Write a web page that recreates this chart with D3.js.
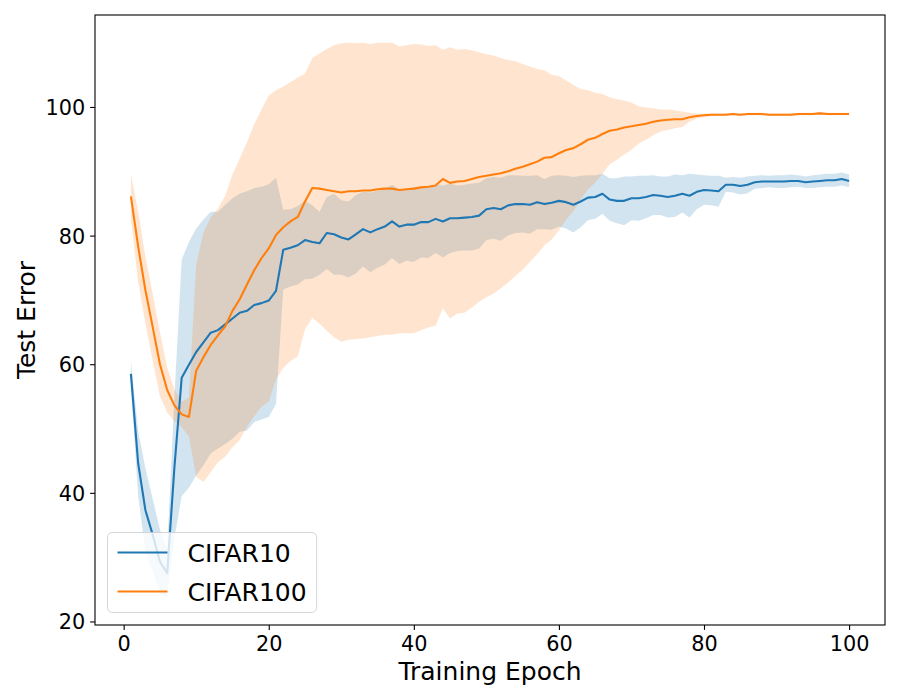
<!DOCTYPE html>
<html>
<head>
<meta charset="utf-8">
<script src="https://cdn.jsdelivr.net/npm/d3@7"></script>
<style>
  body { margin: 0; background: #fff; }
  text { font-family: "DejaVu Sans", sans-serif; }
</style>
</head>
<body>
<div id="vis"></div>
<script>
// ------------------------
// Data
// ------------------------
const epochs = d3.range(1, 101);

const cifar10Mean = [
  58.5, 44.6, 37.3, 33.5, 29.3, 27.5, 44.0, 57.9, 59.9, 61.9,
  63.4, 64.9, 65.3, 66.2, 67.1, 68.0, 68.3, 69.2, 69.5, 69.9,
  71.4, 77.8, 78.1, 78.5, 79.3, 79.0, 78.8, 80.4, 80.2, 79.7,
  79.4, 80.2, 81.0, 80.5, 81.0, 81.4, 82.2, 81.4, 81.7, 81.7,
  82.1, 82.1, 82.6, 82.2, 82.7, 82.7, 82.8, 82.9, 83.1, 84.1,
  84.3, 84.1, 84.7, 84.9, 84.9, 84.8, 85.2, 84.9, 85.1, 85.4,
  85.2, 84.8, 85.3, 85.9, 86.0, 86.5, 85.6, 85.4, 85.4, 85.8,
  85.8, 86.0, 86.3, 86.2, 86.0, 86.2, 86.5, 86.2, 86.8, 87.1,
  87.0, 86.9, 87.9, 87.9, 87.7, 87.9, 88.3, 88.4, 88.4, 88.4,
  88.4, 88.5, 88.5, 88.3, 88.4, 88.5, 88.6, 88.6, 88.8, 88.5
];

const cifar10Std = [
  2.0, 5.0, 6.5, 5.6, 5.0, 3.7, 11.0, 18.4, 19.1, 19.2,
  19.1, 18.8, 18.4, 18.6, 18.7, 18.5, 18.6, 18.2, 18.1, 18.1,
  17.6, 6.2, 6.0, 6.1, 6.1, 5.7, 4.9, 5.6, 6.3, 5.8,
  5.9, 6.1, 5.8, 6.2, 6.0, 5.9, 5.7, 5.8, 5.6, 5.8,
  5.5, 5.6, 5.3, 5.6, 5.4, 5.1, 5.1, 5.2, 5.1, 4.8,
  4.8, 4.9, 4.7, 4.5, 4.4, 4.5, 4.2, 3.9, 4.2, 4.0,
  4.1, 4.3, 4.0, 3.5, 3.4, 3.1, 3.3, 3.5, 3.8, 3.4,
  3.5, 3.3, 3.1, 3.0, 3.2, 3.3, 2.9, 3.4, 2.7, 2.3,
  2.3, 2.4, 1.1, 1.2, 1.3, 1.3, 1.0, 1.0, 0.9, 1.0,
  1.0, 1.0, 0.9, 0.9, 1.0, 1.0, 1.0, 1.0, 1.0, 1.0
];

const cifar100Mean = [
  86.1, 78.3, 71.5, 65.8, 60.0, 56.0, 53.6, 52.2, 51.8, 59.0,
  61.1, 63.0, 64.5, 65.9, 68.3, 70.1, 72.4, 74.6, 76.5, 78.0,
  80.1, 81.3, 82.2, 82.9, 85.3, 87.4, 87.3, 87.1, 86.9, 86.7,
  86.9, 86.9, 87.0, 87.0, 87.2, 87.3, 87.3, 87.1, 87.2, 87.3,
  87.5, 87.6, 87.8, 88.8, 88.2, 88.4, 88.5, 88.8, 89.1, 89.3,
  89.5, 89.7, 90.0, 90.4, 90.7, 91.1, 91.5, 92.1, 92.2, 92.8,
  93.3, 93.6, 94.2, 94.9, 95.2, 95.8, 96.3, 96.5, 96.8, 97.0,
  97.2, 97.4, 97.7, 97.9, 98.0, 98.1, 98.1, 98.4, 98.6, 98.7,
  98.8, 98.8, 98.8, 98.9, 98.8, 98.9, 98.9, 98.9, 98.8, 98.8,
  98.8, 98.8, 98.9, 98.9, 98.9, 99.0, 98.9, 98.9, 98.9, 98.9
];

const cifar100Std = [
  3.4, 5.5, 5.2, 5.2, 5.0, 3.5, 2.5, 2.0, 3.0, 16.5,
  19.4, 19.8, 19.7, 20.3, 21.2, 21.9, 22.1, 22.7, 23.1, 23.8,
  22.5, 21.9, 21.7, 21.7, 19.9, 20.2, 21.0, 21.9, 22.7, 23.2,
  23.1, 23.0, 23.0, 22.8, 22.8, 22.7, 22.7, 22.3, 22.4, 22.5,
  22.2, 21.9, 21.8, 20.1, 21.1, 20.5, 20.5, 20.0, 19.4, 18.9,
  18.5, 17.9, 17.3, 16.7, 16.0, 15.2, 14.4, 13.6, 12.8, 12.0,
  10.8, 9.8, 8.6, 7.7, 7.0, 6.2, 5.2, 4.7, 4.2, 3.7,
  2.9, 2.5, 2.1, 1.7, 1.6, 1.4, 1.2, 0.7, 0.4, 0.3,
  0.2, 0.2, 0.2, 0.2, 0.2, 0.2, 0.2, 0.2, 0.2, 0.2,
  0.2, 0.2, 0.2, 0.2, 0.2, 0.2, 0.2, 0.2, 0.2, 0.2
];

const xTicks = [0, 20, 40, 60, 80, 100];
const yTicks = [20, 40, 60, 80, 100];

const series = [
  { name: "CIFAR10", color: "#1f77b4", mean: cifar10Mean, std: cifar10Std },
  { name: "CIFAR100", color: "#ff7f0e", mean: cifar100Mean, std: cifar100Std }
];

// ------------------------
// Layout
// ------------------------
const margin = { top: 15, right: 15, bottom: 75, left: 95 };
const width = 900 - margin.left - margin.right;
const height = 700 - margin.top - margin.bottom;

const svg = d3.select("#vis")
  .append("svg")
  .attr("width", 900)
  .attr("height", 700);

const g = svg.append("g")
  .attr("transform", `translate(${margin.left},${margin.top})`);

const x = d3.scaleLinear()
  .domain([-3.95, 104.95])
  .range([0, width]);

const y = d3.scaleLinear()
  .domain([19.45, 114.3])
  .range([height, 0]);

g.append("clipPath")
  .attr("id", "plot-clip")
  .append("rect")
  .attr("width", width)
  .attr("height", height);

const plot = g.append("g").attr("clip-path", "url(#plot-clip)");

// Bands (mean +/- std)
series.forEach(s => {
  const rows = epochs.map((e, i) => ({ epoch: e, mean: s.mean[i], std: s.std[i] }));
  s.rows = rows;
  const area = d3.area()
    .x(d => x(d.epoch))
    .y0(d => y(d.mean - d.std))
    .y1(d => y(d.mean + d.std));
  plot.append("path")
    .datum(rows)
    .attr("fill", s.color)
    .attr("fill-opacity", 0.2)
    .attr("d", area);
});

// Mean lines
const line = d3.line()
  .x(d => x(d.epoch))
  .y(d => y(d.mean));

series.forEach(s => {
  plot.append("path")
    .datum(s.rows)
    .attr("fill", "none")
    .attr("stroke", s.color)
    .attr("stroke-width", 2.1)
    .attr("stroke-linejoin", "round")
    .attr("d", line);
});

// Axes
const xAxis = g.append("g")
  .attr("transform", `translate(0,${height})`)
  .call(d3.axisBottom(x).tickValues(xTicks).tickSize(4.9).tickPadding(4.9));

xAxis.selectAll("text")
  .attr("dy", null)
  .attr("y", 26)
  .style("font-size", "20.8px")
  .attr("fill", "#000");

const yAxis = g.append("g")
  .call(d3.axisLeft(y).tickValues(yTicks).tickSize(4.9).tickPadding(4.9));

yAxis.selectAll("text")
  .attr("dy", "0.36em")
  .style("font-size", "20.8px")
  .attr("fill", "#000");

[xAxis, yAxis].forEach(a => {
  a.select(".domain").remove();
  a.selectAll(".tick line").attr("stroke", "#000").attr("stroke-width", 1.1);
});

// Frame
g.append("rect")
  .attr("width", width)
  .attr("height", height)
  .attr("fill", "none")
  .attr("stroke", "#000")
  .attr("stroke-width", 1.1);

// Axis labels
svg.append("text")
  .attr("x", margin.left + width / 2)
  .attr("y", 680)
  .attr("text-anchor", "middle")
  .style("font-size", "25px")
  .text("Training Epoch");

svg.append("text")
  .attr("transform", `translate(34.5,${margin.top + height / 2}) rotate(-90)`)
  .attr("text-anchor", "middle")
  .style("font-size", "25px")
  .text("Test Error");

// Legend
const legend = g.append("g")
  .attr("transform", `translate(12.5,${height - 12.5 - 80})`);

const legendBox = legend.append("rect")
  .attr("x", 0).attr("y", 0)
  .attr("height", 80)
  .attr("rx", 5).attr("ry", 5)
  .attr("fill", "#fff")
  .attr("fill-opacity", 0.8)
  .attr("stroke", "#cccccc")
  .attr("stroke-opacity", 0.8)
  .attr("stroke-width", 1);

let maxLen = 0;
series.forEach((s, i) => {
  const yOffset = 20 + i * 39;
  legend.append("line")
    .attr("x1", 10).attr("x2", 60)
    .attr("y1", yOffset).attr("y2", yOffset)
    .attr("stroke", s.color)
    .attr("stroke-width", 2.1);
  const t = legend.append("text")
    .attr("x", 80).attr("y", yOffset + 9)
    .style("font-size", "25px")
    .text(s.name);
  maxLen = Math.max(maxLen, t.node().getComputedTextLength());
});

legendBox.attr("width", 80 + maxLen + 10);
</script>
</body>
</html>
